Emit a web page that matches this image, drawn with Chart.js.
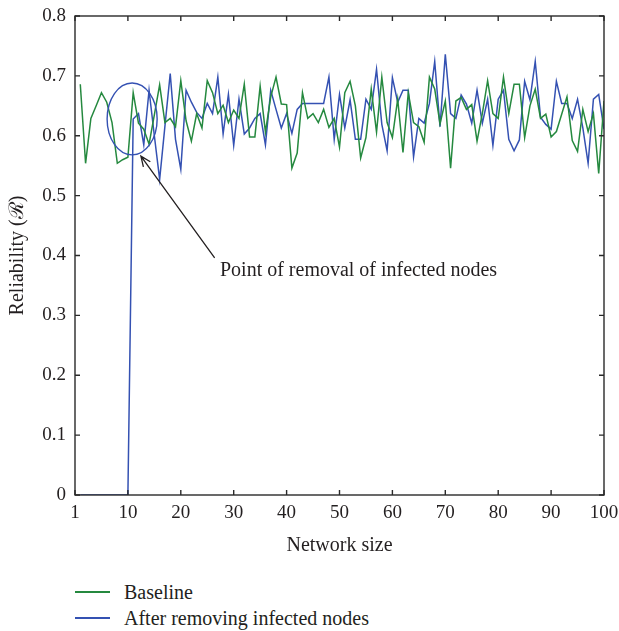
<!DOCTYPE html>
<html>
<head>
<meta charset="utf-8">
<script src="https://cdn.jsdelivr.net/npm/chart.js@4"></script>
<style>
  body { margin: 0; background: #fff; }
  #wrap { position: relative; width: 619px; height: 631px; }
  #reliabilityChart { position: absolute; left: 0; top: 0; }
  .legend-row { position: absolute; left: 75px; height: 24px; display: flex; align-items: center;
    font: 20px "Liberation Serif", serif; color: #231f20; }
  .legend-row .swatch { width: 35px; height: 1.5px; margin-right: 14px; }
</style>
</head>
<body>
<div id="wrap">
  <canvas id="reliabilityChart" width="619" height="565"></canvas>
  <div class="legend-row" style="top:580px"><span class="swatch" style="background:#25893f"></span>Baseline</div>
  <div class="legend-row" style="top:606px"><span class="swatch" style="background:#3451b2"></span>After removing infected nodes</div>
</div>
<script>
// network sizes (x axis)
const networkSize = [
  1, 2, 3, 4, 5, 6, 7, 8, 9, 10, 11, 12, 13, 14, 15, 16, 17, 18, 19, 20,
  21, 22, 23, 24, 25, 26, 27, 28, 29, 30, 31, 32, 33, 34, 35, 36, 37, 38, 39, 40,
  41, 42, 43, 44, 45, 46, 47, 48, 49, 50, 51, 52, 53, 54, 55, 56, 57, 58, 59, 60,
  61, 62, 63, 64, 65, 66, 67, 68, 69, 70, 71, 72, 73, 74, 75, 76, 77, 78, 79, 80,
  81, 82, 83, 84, 85, 86, 87, 88, 89, 90, 91, 92, 93, 94, 95, 96, 97, 98, 99, 100
];

// reliability values
const baseline = [
  0.686, 0.554, 0.629, 0.650, 0.672, 0.656, 0.622, 0.554, 0.560, 0.564,
  0.672, 0.621, 0.611, 0.586, 0.635, 0.685, 0.622, 0.629, 0.615, 0.692,
  0.625, 0.591, 0.637, 0.613, 0.692, 0.672, 0.637, 0.651, 0.622, 0.643,
  0.629, 0.686, 0.598, 0.598, 0.683, 0.606, 0.665, 0.698, 0.653, 0.652,
  0.546, 0.571, 0.672, 0.629, 0.637, 0.622, 0.644, 0.614, 0.629, 0.581,
  0.672, 0.691, 0.650, 0.563, 0.597, 0.678, 0.606, 0.698, 0.622, 0.597,
  0.661, 0.572, 0.672, 0.622, 0.615, 0.589, 0.698, 0.678, 0.620, 0.658,
  0.546, 0.658, 0.664, 0.644, 0.652, 0.591, 0.637, 0.692, 0.637, 0.629,
  0.698, 0.637, 0.686, 0.686, 0.597, 0.650, 0.678, 0.629, 0.636, 0.598,
  0.607, 0.636, 0.665, 0.592, 0.574, 0.644, 0.607, 0.637, 0.537, 0.658
];

const afterRemoval = [
  0, 0, 0, 0, 0, 0, 0, 0, 0, 0,
  0.628, 0.637, 0.585, 0.676, 0.600, 0.527, 0.616, 0.704, 0.594, 0.544,
  0.676, 0.656, 0.639, 0.629, 0.654, 0.637, 0.698, 0.603, 0.669, 0.584,
  0.661, 0.603, 0.613, 0.629, 0.637, 0.585, 0.676, 0.644, 0.613, 0.637,
  0.604, 0.644, 0.654, 0.654, 0.654, 0.654, 0.654, 0.698, 0.594, 0.669,
  0.613, 0.660, 0.594, 0.594, 0.661, 0.644, 0.711, 0.619, 0.575, 0.697,
  0.656, 0.676, 0.676, 0.565, 0.629, 0.621, 0.654, 0.724, 0.615, 0.736,
  0.637, 0.629, 0.668, 0.653, 0.621, 0.676, 0.621, 0.661, 0.584, 0.661,
  0.676, 0.594, 0.575, 0.593, 0.691, 0.660, 0.724, 0.631, 0.619, 0.611,
  0.691, 0.654, 0.654, 0.629, 0.661, 0.613, 0.554, 0.661, 0.669, 0.611
];

const xTicks = [0, 10, 20, 30, 40, 50, 60, 70, 80, 90, 100];
const yTicks = [0, 0.1, 0.2, 0.3, 0.4, 0.5, 0.6, 0.7, 0.8];

// annotation (data units)
const calloutCircle = { x: 10.8, y: 0.628, rx: 4.73, ry: 0.060 };
const calloutArrow = { fromX: 26.4, fromY: 0.396, toX: 12.46, toY: 0.566 };
const calloutText = { x: 27.4, y: 0.375, text: 'Point of removal of infected nodes' };

const FONT = '"Liberation Serif", serif';
const INK = '#231f20';

const toPoints = vals => vals.map((v, i) => ({ x: networkSize[i], y: v }));

// box + inward tick marks, MATLAB style
const framePlugin = {
  id: 'frame',
  afterDatasetsDraw(chart) {
    const { ctx, chartArea: a, scales: { x, y } } = chart;
    ctx.save();
    ctx.strokeStyle = '#2a2a2a';
    ctx.lineWidth = 1.4;
    ctx.strokeRect(a.left, a.top, a.right - a.left, a.bottom - a.top);
    ctx.beginPath();
    xTicks.forEach(t => {
      const px = x.getPixelForValue(t);
      ctx.moveTo(px, a.bottom); ctx.lineTo(px, a.bottom - 5);
      ctx.moveTo(px, a.top); ctx.lineTo(px, a.top + 5);
    });
    yTicks.forEach(t => {
      const py = y.getPixelForValue(t);
      ctx.moveTo(a.left, py); ctx.lineTo(a.left + 5, py);
      ctx.moveTo(a.right, py); ctx.lineTo(a.right - 5, py);
    });
    ctx.stroke();
    ctx.restore();
  }
};

const calloutPlugin = {
  id: 'callout',
  afterDatasetsDraw(chart) {
    const { ctx, scales: { x, y } } = chart;
    ctx.save();
    // circle round the removal point
    const cx = x.getPixelForValue(calloutCircle.x);
    const cy = y.getPixelForValue(calloutCircle.y);
    const rx = x.getPixelForValue(calloutCircle.x + calloutCircle.rx) - cx;
    const ry = cy - y.getPixelForValue(calloutCircle.y + calloutCircle.ry);
    ctx.strokeStyle = '#3451b2';
    ctx.lineWidth = 1.4;
    ctx.beginPath();
    ctx.ellipse(cx, cy, rx, ry, 0, 0, Math.PI * 2);
    ctx.stroke();

    // arrow
    const x1 = x.getPixelForValue(calloutArrow.fromX), y1 = y.getPixelForValue(calloutArrow.fromY);
    const x2 = x.getPixelForValue(calloutArrow.toX), y2 = y.getPixelForValue(calloutArrow.toY);
    const ang = Math.atan2(y2 - y1, x2 - x1);
    ctx.strokeStyle = INK;
    ctx.lineWidth = 1.3;
    ctx.beginPath();
    ctx.moveTo(x1, y1); ctx.lineTo(x2, y2);
    ctx.moveTo(x2 - 11 * Math.cos(ang - 0.4), y2 - 11 * Math.sin(ang - 0.4));
    ctx.lineTo(x2, y2);
    ctx.lineTo(x2 - 11 * Math.cos(ang + 0.4), y2 - 11 * Math.sin(ang + 0.4));
    ctx.stroke();

    ctx.fillStyle = INK;
    ctx.font = '20px ' + FONT;
    ctx.textBaseline = 'middle';
    ctx.fillText(calloutText.text, x.getPixelForValue(calloutText.x), y.getPixelForValue(calloutText.y));
    ctx.restore();
  }
};

new Chart(document.getElementById('reliabilityChart'), {
  type: 'line',
  data: {
    datasets: [{
      label: 'Baseline',
      data: toPoints(baseline),
      borderColor: '#25893f',
      borderWidth: 1.5,
      pointRadius: 0,
      tension: 0
    }, {
      label: 'After removing infected nodes',
      data: toPoints(afterRemoval),
      borderColor: '#3451b2',
      borderWidth: 1.5,
      pointRadius: 0,
      tension: 0
    }]
  },
  options: {
    responsive: false,
    animation: false,
    devicePixelRatio: 1,
    layout: { padding: { top: 16, right: 15, left: 0, bottom: 0 } },
    plugins: { legend: { display: false }, tooltip: { enabled: false } },
    scales: {
      x: {
        type: 'linear',
        min: 0,
        max: 100,
        afterFit: s => { s.height = 70; s.paddingLeft = 0; s.paddingRight = 0; },
        afterBuildTicks: s => { s.ticks = xTicks.map(v => ({ value: v })); },
        grid: { display: false, drawTicks: false },
        border: { display: false },
        ticks: {
          padding: 7,
          color: INK,
          font: { family: FONT, size: 19 },
          callback: v => (v === 0 ? '1' : v)
        },
        title: {
          display: true,
          text: 'Network size',
          color: INK,
          font: { family: FONT, size: 20 },
          padding: { top: 0, bottom: 7 }
        }
      },
      y: {
        min: 0,
        max: 0.8,
        afterFit: s => { s.width = 75; s.paddingTop = 0; s.paddingBottom = 0; },
        afterBuildTicks: s => { s.ticks = yTicks.map(v => ({ value: v })); },
        grid: { display: false, drawTicks: false },
        border: { display: false },
        ticks: {
          padding: 9,
          color: INK,
          font: { family: FONT, size: 19 },
          callback: v => (v === 0 ? '0' : v.toFixed(1))
        },
        title: {
          display: true,
          text: 'Reliability (ℛ)',
          color: INK,
          font: { family: FONT, size: 20 },
          padding: { top: 6, bottom: 0 }
        }
      }
    }
  },
  plugins: [framePlugin, calloutPlugin]
});
</script>
</body>
</html>
